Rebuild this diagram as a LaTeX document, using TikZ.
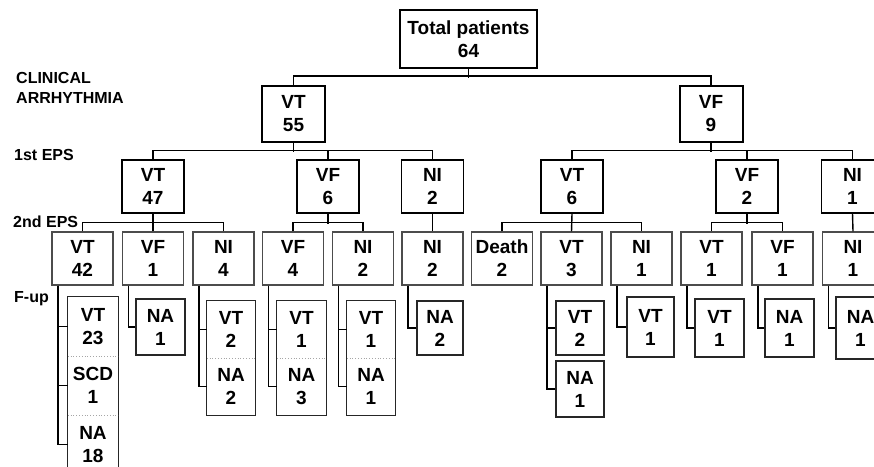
\documentclass[tikz,border=0pt]{standalone}
\usepackage{fontspec}
\setmainfont{Liberation Sans}
\begin{document}
\begin{tikzpicture}[x=1pt,y=-1pt,
  every node/.style={font=\bfseries\fontsize{19}{23}\selectfont, align=center, inner sep=0pt, text=black},
  topbox/.style={draw=black, line width=2pt, minimum width=137pt, minimum height=58pt},
  clbox/.style={draw=black, line width=2pt, minimum width=63pt, minimum height=56pt},
  epsone/.style={draw=black, line width=1.4pt, minimum width=62pt, minimum height=53pt},
  epstwo/.style={draw=black!70, line width=1.1pt, minimum width=61pt, minimum height=53pt},
  fupbox/.style={draw=black!85, line width=1.2pt},
  sect/.style={minimum width=#1},
  lbl/.style={font=\bfseries\fontsize{16}{20}\selectfont, anchor=base west},
  conn/.style={line width=1.4pt, draw=black},
  fupline/.style={line width=1.2pt, draw=black!85},
  sepline/.style={line width=0.8pt, draw=black!35, dotted}
]
\useasboundingbox (0,0) rectangle (874,466);
\clip (0,0) rectangle (874,466);

% labels
\node[lbl] (clin) at (16,83) {CLINICAL};
\node[lbl] (arr) at (16,103) {ARRHYTHMIA};
\node[lbl] (eps1) at (14,160) {1st EPS};
\node[lbl] (eps2) at (13,227) {2nd EPS};
\node[lbl] (fuplbl) at (14,302) {F-up};

% level 0 and 1
\node[topbox] (total) at (468.5,39) {Total patients\\64};
\node[clbox] (vt55) at (293.5,114) {VT\\55};
\node[clbox] (vf9) at (711,114) {VF\\9};

% 1st EPS
\node[epsone] (vt47) at (153,186.5) {VT\\47};
\node[epsone] (vf6) at (328,186.5) {VF\\6};
\node[epsone] (ni2a) at (432.5,186.5) {NI\\2};
\node[epsone] (vt6) at (572,186.5) {VT\\6};
\node[epsone] (vf2) at (747,186.5) {VF\\2};
\node[epsone] (ni1a) at (852.5,186.5) {NI\\1};

% 2nd EPS
\node[epstwo] (vt42) at (82.5,258.5) {VT\\42};
\node[epstwo] (vf1a) at (153,258.5) {VF\\1};
\node[epstwo] (ni4) at (223.5,258.5) {NI\\4};
\node[epstwo] (vf4) at (293,258.5) {VF\\4};
\node[epstwo] (ni2b) at (363,258.5) {NI\\2};
\node[epstwo] (ni2c) at (432.5,258.5) {NI\\2};
\node[epstwo] (death) at (502,258.5) {Death\\2};
\node[epstwo] (vt3) at (571.5,258.5) {VT\\3};
\node[epstwo] (ni1b) at (641.5,258.5) {NI\\1};
\node[epstwo] (vt1a) at (711.5,258.5) {VT\\1};
\node[epstwo] (vf1b) at (782.5,258.5) {VF\\1};
\node[epstwo] (ni1c) at (853,258.5) {NI\\1};

% connectors top levels
\draw[conn] (total.south) -- ++(0,9);
\draw[conn] (vt55.north) -- ++(0,-9) -| (vf9.north);
\draw[conn] (vt55.south) -- ++(0,9);
\draw[conn] (vt47.north) -- ++(0,-9) -| (ni2a.north);
\draw[conn] (vf6.north) -- ++(0,-9);
\draw[conn] (vf9.south) -- ++(0,9);
\draw[conn] (vt6.north) -- ++(0,-9) -| (ni1a.north);
\draw[conn] (vf2.north) -- ++(0,-9);
% 2nd EPS connectors
\draw[conn] (vt42.north) -- ++(0,-9) -| (ni4.north);
\draw[conn] (vf1a.north) -- (vt47.south);
\draw[conn] (vf4.north) -- ++(0,-9) -| (ni2b.north);
\draw[conn] (vf6.south) -- ++(0,10);
\draw[conn] (ni2a.south) -- (ni2c.north);
\draw[conn] (death.north) -- ++(0,-9) -| (ni1b.north);
\draw[conn] (vt6.south) -- (vt3.north);
\draw[conn] (vt1a.north) -- ++(0,-9) -| (vf1b.north);
\draw[conn] (vf2.south) -- ++(0,10);
\draw[conn] (ni1a.south) -- (ni1c.north);

% F-up: VT 42 column
\node[sect=50pt, minimum height=59pt] (vt23) at (93,326.5) {VT\\23};
\node[sect=50pt, minimum height=59pt] (scd1) at (93,385.5) {SCD\\1};
\node[sect=50pt, minimum height=59pt] (na18) at (93,444.5) {NA\\18};
\draw[fupline] (vt23.north west) rectangle ([yshift=-20pt]na18.south east);
\draw[sepline] (vt23.south west) -- (vt23.south east);
\draw[sepline] (scd1.south west) -- (scd1.south east);
\draw[conn] ([xshift=6.5pt]vt42.south west) |- (vt23.west);
\draw[conn] ([xshift=6.5pt]vt42.south west) |- (scd1.west);
\draw[conn] ([xshift=6.5pt]vt42.south west) |- (na18.west);

% VF 1
\node[fupbox, minimum width=49pt, minimum height=56pt] (na1a) at (160.5,327) {NA\\1};
\draw[conn] ([xshift=6.5pt]vf1a.south west) |- (na1a.west);

% NI 4 column
\node[sect=48pt, minimum height=57pt] (vt2a) at (231,329.5) {VT\\2};
\node[sect=48pt, minimum height=57pt] (na2a) at (231,386.5) {NA\\2};
\draw[fupline] (vt2a.north west) rectangle (na2a.south east);
\draw[sepline] (vt2a.south west) -- (vt2a.south east);
\draw[conn] ([xshift=6.5pt]ni4.south west) |- (vt2a.west);
\draw[conn] ([xshift=6.5pt]ni4.south west) |- (na2a.west);

% VF 4 column
\node[sect=49pt, minimum height=57pt] (vt1b) at (301.5,329.5) {VT\\1};
\node[sect=49pt, minimum height=57pt] (na3) at (301.5,386.5) {NA\\3};
\draw[fupline] (vt1b.north west) rectangle (na3.south east);
\draw[sepline] (vt1b.south west) -- (vt1b.south east);
\draw[conn] ([xshift=6.5pt]vf4.south west) |- (vt1b.west);
\draw[conn] ([xshift=6.5pt]vf4.south west) |- (na3.west);

% NI 2 column
\node[sect=48pt, minimum height=57pt] (vt1c) at (371,329.5) {VT\\1};
\node[sect=48pt, minimum height=57pt] (na1b) at (371,386.5) {NA\\1};
\draw[fupline] (vt1c.north west) rectangle (na1b.south east);
\draw[sepline] (vt1c.south west) -- (vt1c.south east);
\draw[conn] ([xshift=6.5pt]ni2b.south west) |- (vt1c.west);
\draw[conn] ([xshift=6.5pt]ni2b.south west) |- (na1b.west);

% NI 2 (single)
\node[fupbox, minimum width=46pt, minimum height=54pt] (na2b) at (440,328) {NA\\2};
\draw[conn] ([xshift=6.5pt]ni2c.south west) |- (na2b.west);

% VT 3
\node[fupbox, minimum width=48pt, minimum height=54pt] (vt2b) at (580,328) {VT\\2};
\node[fupbox, minimum width=48pt, minimum height=56pt] (na1c) at (580,389) {NA\\1};
\draw[conn] ([xshift=6.5pt]vt3.south west) |- (vt2b.west);
\draw[conn] ([xshift=6.5pt]vt3.south west) |- (na1c.west);

% NI 1
\node[fupbox, minimum width=47pt, minimum height=60pt] (vt1d) at (650.5,327) {VT\\1};
\draw[conn] ([xshift=6.5pt]ni1b.south west) |- (vt1d.west);

% VT 1
\node[fupbox, minimum width=49pt, minimum height=58pt] (vt1e) at (719.5,328) {VT\\1};
\draw[conn] ([xshift=6.5pt]vt1a.south west) |- (vt1e.west);

% VF 1
\node[fupbox, minimum width=49pt, minimum height=58pt] (na1d) at (789.5,328) {NA\\1};
\draw[conn] ([xshift=6.5pt]vf1b.south west) |- (na1d.west);

% NI 1 (right)
\node[fupbox, minimum width=49pt, minimum height=62pt] (na1e) at (860.5,328) {NA\\1};
\draw[conn] ([xshift=6.5pt]ni1c.south west) |- (na1e.west);
\end{tikzpicture}
\end{document}
